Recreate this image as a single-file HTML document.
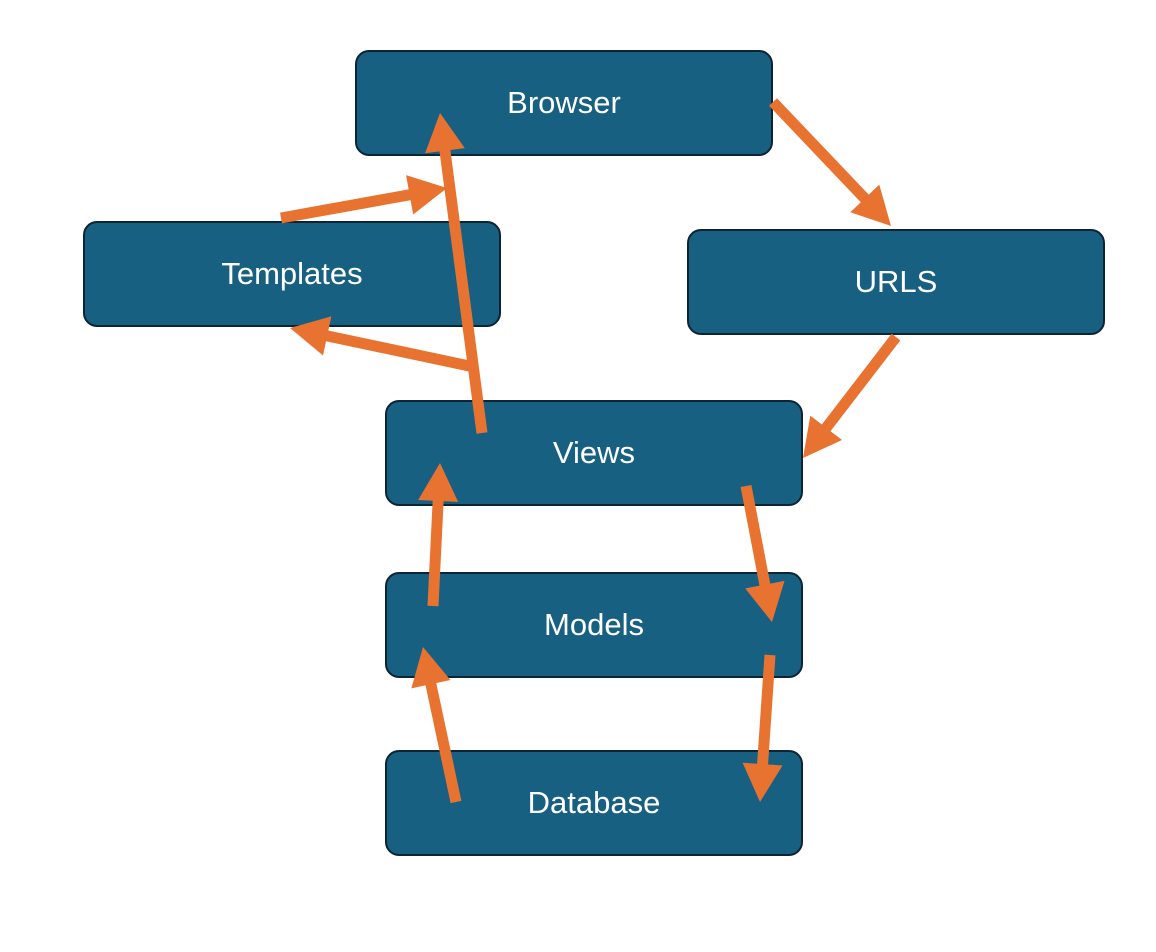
<!DOCTYPE html>
<html><head><meta charset="utf-8"><style>
body{margin:0;width:1156px;height:952px;background:#fff;position:relative;overflow:hidden;font-family:"Liberation Sans",sans-serif}
.b{position:absolute;width:414px;height:102px;background:#186081;border:2px solid #0c2433;border-radius:14px;color:#fff;font-size:31px;display:flex;align-items:center;justify-content:center;box-sizing:content-box}
svg{position:absolute;left:0;top:0}
</style></head><body>
<div class="b" style="left:355px;top:50px">Browser</div>
<div class="b" style="left:83px;top:221px">Templates</div>
<div class="b" style="left:687px;top:229px">URLS</div>
<div class="b" style="left:385px;top:400px">Views</div>
<div class="b" style="left:385px;top:572px">Models</div>
<div class="b" style="left:385px;top:750px">Database</div>
<svg id="s" width="1156" height="952"></svg>
<script>
var A=[[482,433,440,113],[281,218,447,188],[474,367,290,328],[773,102,891,226],[896,337,803,458],[433,606,440,463],[746,486,772,622],[456,802,423,647],[770,655,760,802]];
var h='',c='#e87331';
A.forEach(function(a){var dx=a[2]-a[0],dy=a[3]-a[1],L=Math.hypot(dx,dy),ux=dx/L,uy=dy/L,px=-uy,py=ux,hl=38,hw=20;
var bx=a[2]-ux*hl,by=a[3]-uy*hl;
h+='<line x1="'+a[0]+'" y1="'+a[1]+'" x2="'+(bx+ux*2)+'" y2="'+(by+uy*2)+'" stroke="'+c+'" stroke-width="11"/>';
h+='<polygon fill="'+c+'" points="'+a[2]+','+a[3]+' '+(bx+px*hw)+','+(by+py*hw)+' '+(bx-px*hw)+','+(by-py*hw)+'"/>';});
document.getElementById('s').innerHTML=h;
</script>
</body></html>
